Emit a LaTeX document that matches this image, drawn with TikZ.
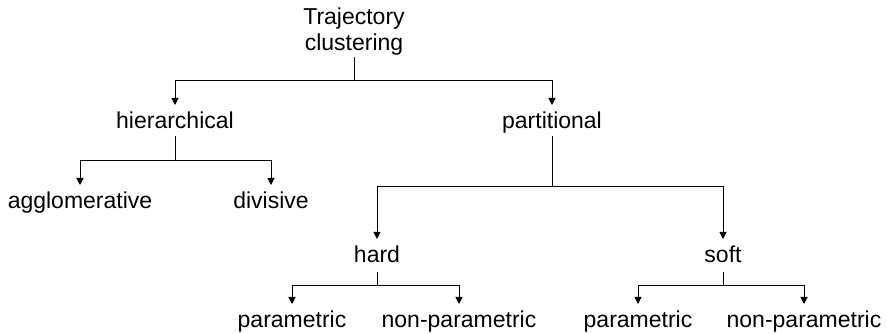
\documentclass[tikz,border=0pt]{standalone}
\usepackage{fontspec}
\setmainfont{Liberation Sans}
\usetikzlibrary{arrows.meta}
\begin{document}
\begin{tikzpicture}[x=1pt,y=1pt,
  lbl/.style={font=\fontsize{23}{26}\selectfont, inner sep=0pt, outer sep=0pt, text height=17pt, text depth=5pt, anchor=base},
  rootlbl/.style={font=\fontsize{23}{26}\selectfont, inner sep=0pt, outer sep=0pt, align=center, anchor=north},
  conn/.style={line width=1pt, draw=black},
  arr/.style={conn, -{Triangle[length=7pt,width=7pt]}, shorten >=7pt}]
\useasboundingbox (0,0) rectangle (887,334);
\node[rootlbl] (root) at (354,326.5) {Trajectory\\clustering};
\node[lbl] (hier) at (175,205) {hierarchical};
\node[lbl] (part) at (552,205) {partitional};
\node[lbl] (aggl) at (80,125) {agglomerative};
\node[lbl] (div) at (271,125) {divisive};
\node[lbl] (hard) at (377,71) {hard};
\node[lbl] (soft) at (723,71) {soft};
\node[lbl] (p1) at (292,6) {parametric};
\node[lbl] (n1) at (459,6) {non-parametric};
\node[lbl] (p2) at (638,6) {parametric};
\node[lbl] (n2) at (804,6) {non-parametric};
\coordinate (j0) at (354,253);
\coordinate (j1) at (175,173);
\coordinate (j2) at (552,147);
\coordinate (j3) at (377,48);
\coordinate (j4) at (723,48);
\draw[conn, shorten <=2pt] (root) -- (j0);
\draw[arr] (j0) -| (hier);
\draw[arr] (j0) -| (part);
\draw[conn, shorten <=2pt] (hier) -- (j1);
\draw[arr] (j1) -| (aggl);
\draw[arr] (j1) -| (div);
\draw[conn, shorten <=2pt] (part) -- (j2);
\draw[arr] (j2) -| (hard);
\draw[arr] (j2) -| (soft);
\draw[conn, shorten <=4pt] (hard) -- (j3);
\draw[arr] (j3) -| (p1);
\draw[arr] (j3) -| (n1);
\draw[conn, shorten <=4pt] (soft) -- (j4);
\draw[arr] (j4) -| (p2);
\draw[arr] (j4) -| (n2);
\end{tikzpicture}
\end{document}
